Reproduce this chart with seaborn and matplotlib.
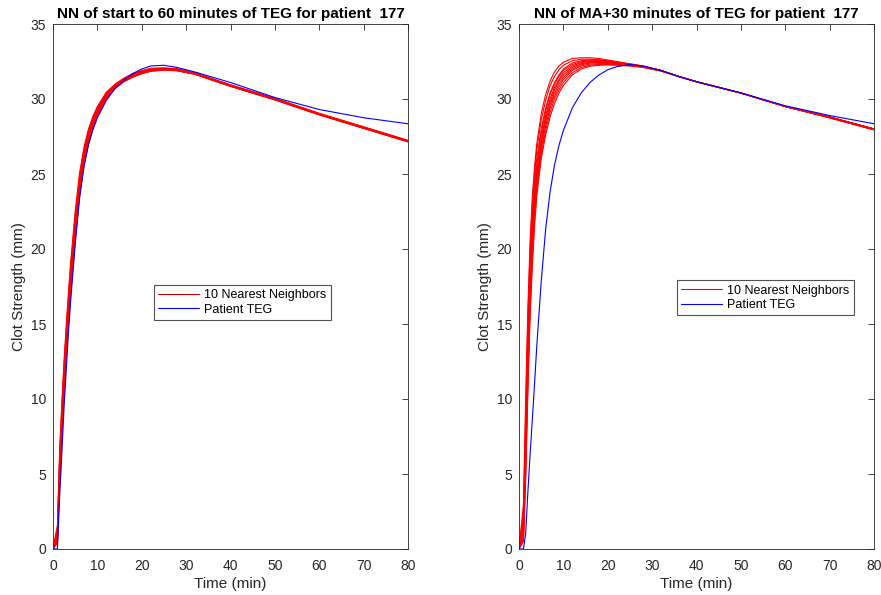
import numpy as np
import pandas as pd
import matplotlib
matplotlib.use("Agg")
import matplotlib.pyplot as plt
import seaborn as sns
from matplotlib.lines import Line2D

# ---------------- data ----------------
time_min = [0, 1, 1.5, 2, 2.5, 3, 3.5, 4, 5, 6, 7, 8, 9, 10, 12, 14, 16, 18, 20,
            22, 25, 28, 32, 36, 40, 50, 60, 70, 80]

# Left panel: start to 60 minutes
left_patient = [0, 0, 3.5, 6.4, 9.5, 12.0, 14.5, 16.6, 20.3, 23.4, 25.5, 26.95, 27.95, 28.75,
                29.9, 30.7, 31.25, 31.7, 32.0, 32.2, 32.25, 32.1, 31.8, 31.45, 31.1, 30.1,
                29.3, 28.75, 28.35]
left_nn1 = [0, 1.6, 6.6, 9.8, 12.6, 15.0, 17.2, 19.2, 22.5, 25.1, 26.8, 28.0, 28.85, 29.5, 30.45, 31.0, 31.4, 31.7, 31.9, 32.05, 32.08, 32.02, 31.75, 31.35, 30.95, 30.05, 29.05, 28.15, 27.25]
left_nn2 = [0, 1.4, 6.3, 9.5, 12.3, 14.7, 16.9, 18.9, 22.2, 24.9, 26.65, 27.9, 28.75, 29.4, 30.4, 30.95, 31.35, 31.65, 31.85, 32.0, 32.05, 32.0, 31.72, 31.32, 30.92, 30.02, 29.02, 28.12, 27.22]
left_nn3 = [0, 1.2, 6.0, 9.2, 12.0, 14.4, 16.6, 18.6, 22.0, 24.7, 26.5, 27.8, 28.7, 29.35, 30.35, 30.92, 31.32, 31.62, 31.82, 31.97, 32.02, 31.97, 31.71, 31.31, 30.91, 30.01, 29.01, 28.11, 27.21]
left_nn4 = [0, 1.0, 5.6, 8.8, 11.6, 14.1, 16.3, 18.4, 21.8, 24.6, 26.4, 27.7, 28.6, 29.3, 30.3, 30.9, 31.3, 31.6, 31.8, 31.95, 32.0, 31.95, 31.7, 31.3, 30.9, 30.0, 29.0, 28.1, 27.2]
left_nn5 = [0, 0.9, 5.4, 8.6, 11.4, 13.9, 16.1, 18.2, 21.6, 24.4, 26.3, 27.6, 28.5, 29.25, 30.25, 30.88, 31.28, 31.58, 31.78, 31.93, 31.98, 31.93, 31.69, 31.29, 30.89, 29.99, 28.99, 28.09, 27.19]
left_nn6 = [0, 0.8, 5.2, 8.4, 11.2, 13.7, 15.9, 18.0, 21.4, 24.3, 26.2, 27.5, 28.45, 29.2, 30.2, 30.85, 31.25, 31.55, 31.76, 31.91, 31.97, 31.92, 31.68, 31.28, 30.88, 29.98, 28.98, 28.08, 27.18]
left_nn7 = [0, 0.7, 5.0, 8.2, 11.0, 13.5, 15.7, 17.8, 21.2, 24.1, 26.0, 27.4, 28.35, 29.1, 30.15, 30.8, 31.22, 31.52, 31.74, 31.9, 31.96, 31.91, 31.67, 31.27, 30.87, 29.97, 28.97, 28.07, 27.17]
left_nn8 = [0, 0.6, 4.8, 8.0, 10.8, 13.3, 15.5, 17.6, 21.0, 24.0, 25.9, 27.3, 28.3, 29.05, 30.1, 30.78, 31.2, 31.5, 31.72, 31.88, 31.95, 31.9, 31.66, 31.26, 30.86, 29.96, 28.96, 28.06, 27.16]
left_nn9 = [0, 0.5, 4.5, 7.8, 10.6, 13.1, 15.3, 17.4, 20.8, 23.8, 25.8, 27.2, 28.2, 29.0, 30.05, 30.75, 31.18, 31.48, 31.7, 31.86, 31.94, 31.89, 31.65, 31.25, 30.85, 29.95, 28.95, 28.05, 27.15]
left_nn10 = [0, 0.4, 4.2, 7.5, 10.3, 12.8, 15.0, 17.1, 20.5, 23.6, 25.6, 27.0, 28.05, 28.9, 30.0, 30.7, 31.15, 31.45, 31.68, 31.84, 31.92, 31.88, 31.64, 31.24, 30.84, 29.94, 28.94, 28.04, 27.14]

# Right panel: MA+30 minutes
right_patient = [0, 0, 1.0, 3.8, 6.3, 8.6, 11.0, 13.5, 17.8, 21.3, 23.8, 25.6, 26.9, 27.9,
                 29.4, 30.4, 31.1, 31.6, 31.95, 32.15, 32.3, 32.2, 31.9, 31.5, 31.15, 30.4,
                 29.55, 28.9, 28.35]
right_nn1 = [0, 3, 10, 16, 20.5, 23.5, 25.5, 27.0, 29.0, 30.3, 31.2, 31.8, 32.2, 32.45, 32.7, 32.75, 32.75, 32.7, 32.6, 32.5, 32.35, 32.2, 31.9, 31.5, 31.15, 30.4, 29.5, 28.75, 27.95]
right_nn2 = [0, 2.5, 9, 15.5, 20, 23, 25, 26.6, 28.6, 29.9, 30.9, 31.5, 31.95, 32.25, 32.55, 32.65, 32.65, 32.62, 32.55, 32.45, 32.32, 32.18, 31.9, 31.5, 31.15, 30.4, 29.5, 28.75, 27.95]
right_nn3 = [0, 2, 8, 14.5, 19, 22.3, 24.5, 26.0, 28.0, 29.4, 30.4, 31.1, 31.6, 32.0, 32.4, 32.55, 32.6, 32.6, 32.55, 32.45, 32.32, 32.18, 31.9, 31.5, 31.15, 30.4, 29.5, 28.75, 27.95]
right_nn4 = [0, 1.8, 7.5, 14, 18.5, 21.8, 24.0, 25.6, 27.7, 29.2, 30.3, 31.0, 31.5, 31.9, 32.3, 32.48, 32.55, 32.55, 32.5, 32.42, 32.3, 32.17, 31.9, 31.5, 31.15, 30.4, 29.5, 28.75, 27.95]
right_nn5 = [0, 1.5, 7, 13, 18, 21.3, 23.6, 25.2, 27.4, 28.9, 30.0, 30.8, 31.3, 31.75, 32.2, 32.42, 32.5, 32.5, 32.47, 32.4, 32.3, 32.17, 31.9, 31.5, 31.15, 30.4, 29.5, 28.8, 28.0]
right_nn6 = [0, 1.2, 6.5, 12.5, 17.5, 20.8, 23.2, 24.9, 27.1, 28.7, 29.8, 30.6, 31.2, 31.6, 32.1, 32.35, 32.45, 32.45, 32.43, 32.38, 32.28, 32.16, 31.9, 31.5, 31.15, 30.4, 29.5, 28.8, 28.0]
right_nn7 = [0, 1.0, 6, 12, 17, 20.3, 22.8, 24.6, 26.9, 28.5, 29.6, 30.4, 31.0, 31.45, 32.0, 32.28, 32.4, 32.42, 32.4, 32.35, 32.26, 32.15, 31.88, 31.5, 31.15, 30.4, 29.5, 28.8, 28.0]
right_nn8 = [0, 0.8, 5.5, 11.5, 16.5, 19.8, 22.4, 24.3, 26.6, 28.2, 29.4, 30.2, 30.8, 31.3, 31.9, 32.2, 32.33, 32.36, 32.36, 32.32, 32.25, 32.14, 31.88, 31.5, 31.15, 30.4, 29.5, 28.8, 28.0]
right_nn9 = [0, 0.6, 5, 11, 16, 19.3, 22.0, 23.9, 26.3, 27.9, 29.1, 30.0, 30.6, 31.1, 31.75, 32.1, 32.25, 32.3, 32.3, 32.28, 32.22, 32.12, 31.87, 31.5, 31.15, 30.4, 29.5, 28.8, 28.0]
right_nn10 = [0, 0.5, 4.5, 10.5, 15.5, 18.8, 21.5, 23.5, 26.0, 27.6, 28.8, 29.7, 30.4, 30.9, 31.6, 32.0, 32.18, 32.25, 32.27, 32.25, 32.2, 32.1, 31.86, 31.5, 31.15, 30.4, 29.5, 28.8, 28.0]

left_neighbors = [left_nn1, left_nn2, left_nn3, left_nn4, left_nn5,
                  left_nn6, left_nn7, left_nn8, left_nn9, left_nn10]
right_neighbors = [right_nn1, right_nn2, right_nn3, right_nn4, right_nn5,
                   right_nn6, right_nn7, right_nn8, right_nn9, right_nn10]

titles = ["NN of start to 60 minutes of TEG for patient  177",
          "NN of MA+30 minutes of TEG for patient  177"]
legend_labels = ["10 Nearest Neighbors", "Patient TEG"]
x_ticks = [0, 10, 20, 30, 40, 50, 60, 70, 80]
y_ticks = [0, 5, 10, 15, 20, 25, 30, 35]

# ---------------- style ----------------
sns.set_theme(style="white")
plt.rcParams["font.family"] = ["Liberation Sans", "DejaVu Sans"]
plt.rcParams["xtick.direction"] = "in"
plt.rcParams["ytick.direction"] = "in"

W, H = 881, 595
fig = plt.figure(figsize=(W / 100, H / 100), dpi=100)
ax_l = fig.add_axes([53 / W, 1 - 549 / H, 355 / W, 525 / H])
ax_r = fig.add_axes([519 / W, 1 - 549 / H, 355 / W, 525 / H])

dark = "#262626"

panels = [
    (ax_l, left_neighbors, left_patient, titles[0], (0.783, 0.503), "#b80000"),
    (ax_r, right_neighbors, right_patient, titles[1], (0.944, 0.512), "#ff0000"),
]

for ax, neighbors, patient, title, legpos, legred in panels:
    for curve in neighbors:
        sns.lineplot(x=time_min, y=curve, ax=ax, color="#ff0000", linewidth=0.8,
                     estimator=None, sort=False, legend=False)
    sns.lineplot(x=time_min, y=patient, ax=ax, color="#0000ff", linewidth=0.8,
                 estimator=None, sort=False, legend=False)
    ax.set_xlim(0, 80)
    ax.set_ylim(0, 35)
    ax.set_xticks(x_ticks)
    ax.set_yticks(y_ticks)
    ax.tick_params(axis="both", which="both", direction="in", top=True, right=True,
                   length=4, width=0.6, color=dark, labelsize=10, labelcolor=dark)
    ax.tick_params(axis="x", pad=7)
    ax.tick_params(axis="y", pad=5)
    for sp in ax.spines.values():
        sp.set_visible(True)
        sp.set_color(dark)
        sp.set_linewidth(0.6)
    ax.set_xlabel("Time (min)", fontsize=11, color=dark, labelpad=3)
    ax.set_ylabel("Clot Strength (mm)", fontsize=11, color=dark, labelpad=3)
    ax.set_title(title, fontsize=11, fontweight="bold", color="black", pad=4)
    handles = [Line2D([], [], color=legred, lw=0.8),
               Line2D([], [], color="#0000ff", lw=0.8)]
    leg = ax.legend(handles, legend_labels, loc="upper right", bbox_to_anchor=legpos,
                    fontsize=9, frameon=True, fancybox=False, handlelength=3.3,
                    handletextpad=0.4, borderpad=0.35, labelspacing=0.2,
                    borderaxespad=0.0)
    leg.get_frame().set_edgecolor(dark)
    leg.get_frame().set_linewidth(0.8)
    for t in leg.get_texts():
        t.set_color("black")

fig.savefig("out.png", dpi=100)
